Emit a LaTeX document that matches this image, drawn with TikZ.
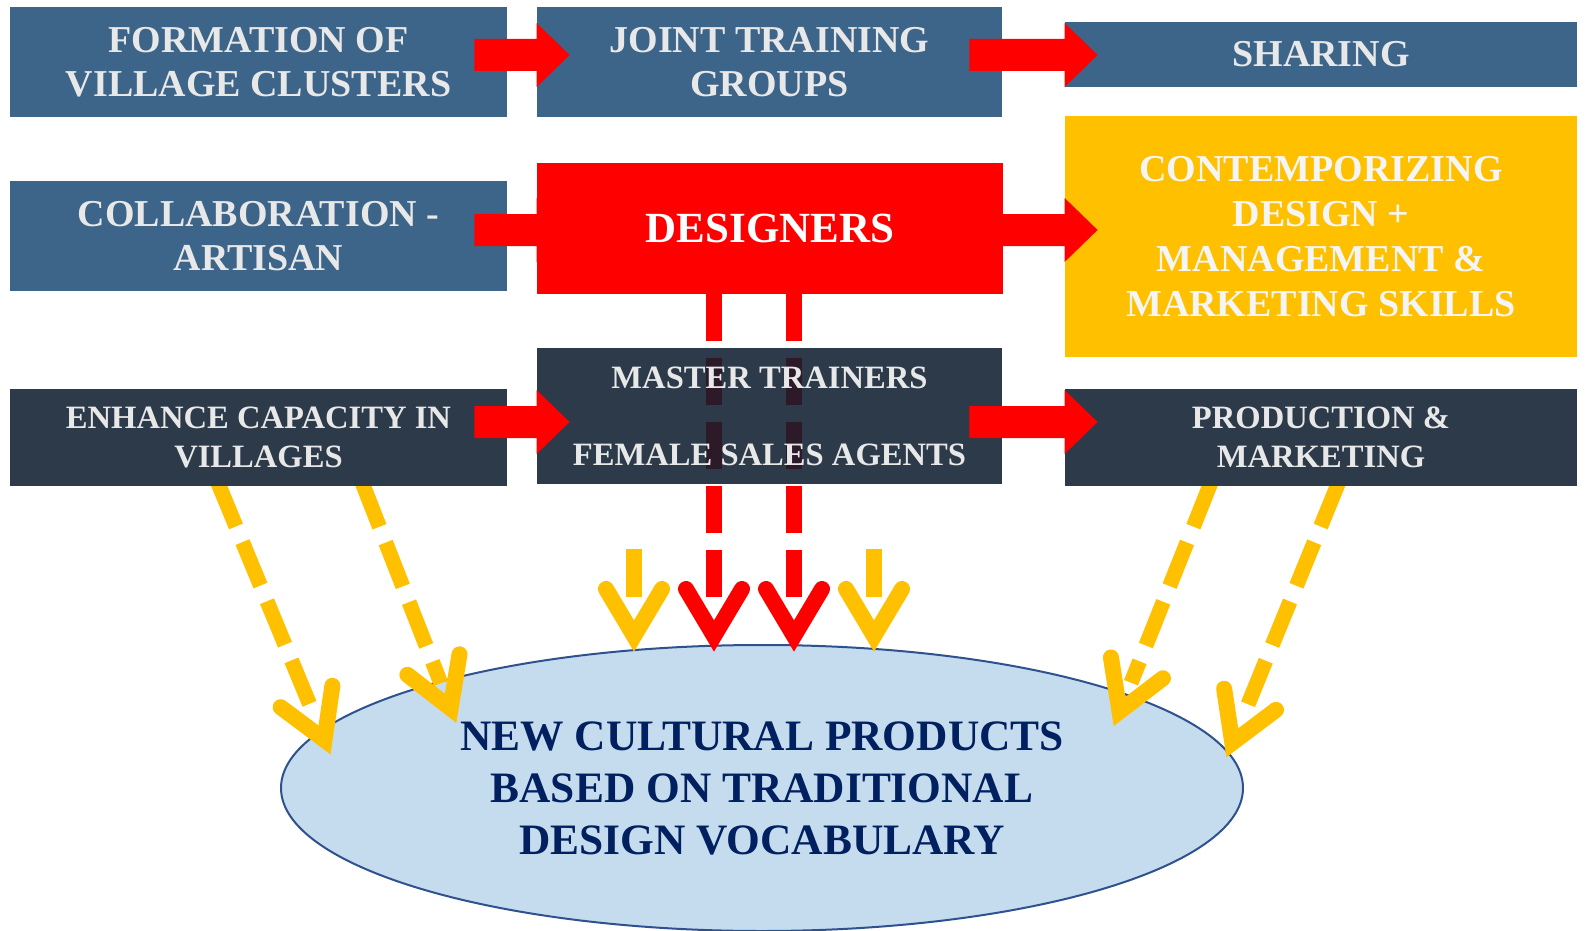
\documentclass[tikz,border=0pt]{standalone}
\usepackage{fontspec}
\setmainfont{Liberation Serif}
\usetikzlibrary{calc,shapes.geometric}
\definecolor{boxblue}{RGB}{60,101,137}
\definecolor{boxdark}{RGB}{44,58,74}
\definecolor{boxdarkt}{RGB}{14,30,48}
\definecolor{arrred}{RGB}{255,0,0}
\definecolor{arryel}{RGB}{255,192,0}
\definecolor{ellfill}{RGB}{197,220,239}
\definecolor{elldraw}{RGB}{47,82,143}
\definecolor{elltext}{RGB}{0,32,96}
\definecolor{boxtext}{RGB}{232,232,232}
\newcommand\blockarr[3]{%
  \fill[arrred] ($(#1.east |- 0,#3-16)+(-33,0)$) -- (#2.west |- 0,#3-16) -- (#2.west |- 0,#3-32)
    -- ($(#2.west |- 0,#3)+(33,0)$) -- (#2.west |- 0,#3+32) -- (#2.west |- 0,#3+16)
    -- ($(#1.east |- 0,#3+16)+(-33,0)$) -- cycle;}
\begin{document}
\begin{tikzpicture}[x=0.5pt,y=-0.5pt,
  box/.style={rectangle, inner sep=0pt, text=boxtext, align=center,
    font=\bfseries\fontsize{19}{22}\selectfont},
  smallbox/.style={box, font=\bfseries\fontsize{16.3}{19.5}\selectfont},
  redline/.style={draw=arrred, line width=8pt, dash pattern=on 23.5pt off 8.5pt},
  yelline/.style={draw=arryel, line width=7.5pt, dash pattern=on 23.5pt off 8.5pt},
  chev/.pic={\draw[line width=8pt, line cap=round, line join=miter, draw=#1] (-28,-47) -- (0,0) -- (28,-47);},
]
\useasboundingbox[fill=white] (0,0) rectangle (1590,931);

% target ellipse
\node[ellipse, fill=ellfill, draw=elldraw, line width=1pt, minimum width=481pt, minimum height=143pt,
  inner sep=0pt, text=elltext, align=center, font=\bfseries\fontsize{21.7}{26}\selectfont]
  (ell) at (762,788) {NEW CULTURAL PRODUCTS\\BASED ON TRADITIONAL\\DESIGN VOCABULARY};

% red dashed connectors (under boxes)
\node[box, fill=arrred, minimum width=233pt, minimum height=65.5pt, text=white,
  font=\bfseries\fontsize{21.5}{24}\selectfont] (des) at (770,228.5) {DESIGNERS};
\coordinate (r1a) at (714,0 |- des.south);
\coordinate (r1b) at (714,597);
\coordinate (r2a) at (794,0 |- des.south);
\coordinate (r2b) at (794,597);
\draw[redline] (r1a) -- (r1b);
\draw[redline] (r2a) -- (r2b);
\pic at (714,636) {chev=arrred};
\pic at (794,636) {chev=arrred};

% short yellow arrows
\coordinate (y5a) at (634,549);
\coordinate (y5b) at (634,597);
\coordinate (y6a) at (874,549);
\coordinate (y6b) at (874,597);
\draw[arryel, line width=8pt] (y5a) -- (y5b);
\draw[arryel, line width=8pt] (y6a) -- (y6b);
\pic at (634,636) {chev=arryel};
\pic at (874,636) {chev=arryel};

% diagonal yellow arrows
\coordinate (y1a) at (218,483);
\coordinate (y1b) at (311.8,709.4);
\coordinate (y2a) at (362.3,483);
\coordinate (y2b) at (440.8,683.2);
\coordinate (y3a) at (1210.8,483);
\coordinate (y3b) at (1131,682.7);
\coordinate (y4a) at (1338.4,483);
\coordinate (y4b) at (1246.5,708);
\draw[yelline] (y1a) -- (y1b);
\draw[yelline] (y2a) -- (y2b);
\draw[yelline] (y3a) -- (y3b);
\draw[yelline] (y4a) -- (y4b);
\pic[rotate=22.5] at (324.5,739.9) {chev=arryel};
\pic[rotate=21.4] at (450.6,708.3) {chev=arryel};
\pic[rotate=-21.8] at (1119.5,711.5) {chev=arryel};
\pic[rotate=-22.2] at (1232.3,742.8) {chev=arryel};

% boxes
\node[box, fill=boxblue, minimum width=248.5pt, minimum height=55pt] (form) at (258.5,62) {FORMATION OF\\VILLAGE CLUSTERS};
\node[box, fill=boxblue, minimum width=232.5pt, minimum height=55pt] (joint) at (769.5,62) {JOINT TRAINING\\GROUPS};
\node[box, fill=boxblue, minimum width=256pt, minimum height=32.5pt] (share) at (1321,54.5) {SHARING};
\node[box, fill=boxblue, minimum width=248.5pt, minimum height=55pt] (collab) at (258.5,236) {COLLABORATION -\\ARTISAN};
\node[box, fill=arrred, minimum width=233pt, minimum height=65.5pt, text=white,
  font=\bfseries\fontsize{21.5}{24}\selectfont] (des) at (770,228.5) {DESIGNERS};
\node[box, fill=arryel, minimum width=256pt, minimum height=120.5pt, text=white!96!black,
  font=\bfseries\fontsize{19}{22.5}\selectfont] (cont) at (1321,236.5)
  {CONTEMPORIZING\\DESIGN +\\MANAGEMENT \&\\MARKETING SKILLS};
\node[smallbox, fill=boxdark, minimum width=248.5pt, minimum height=48.5pt] (enh) at (258.5,437.5) {ENHANCE CAPACITY IN\\VILLAGES};
\node[smallbox, fill=boxdarkt, fill opacity=0.875, text opacity=1, minimum width=232.5pt, minimum height=68pt] (mast) at (769.5,416)
  {MASTER TRAINERS\\[19pt]FEMALE SALES AGENTS};
\node[smallbox, fill=boxdark, minimum width=256pt, minimum height=48.5pt] (prod) at (1321,437.5) {PRODUCTION \&\\MARKETING};

% block arrows
\blockarr{form}{joint}{55}
\blockarr{joint}{share}{55}
\blockarr{collab}{des}{230}
\blockarr{des}{cont}{230}
\blockarr{enh}{mast}{422}
\blockarr{mast}{prod}{422}
\end{tikzpicture}
\end{document}
